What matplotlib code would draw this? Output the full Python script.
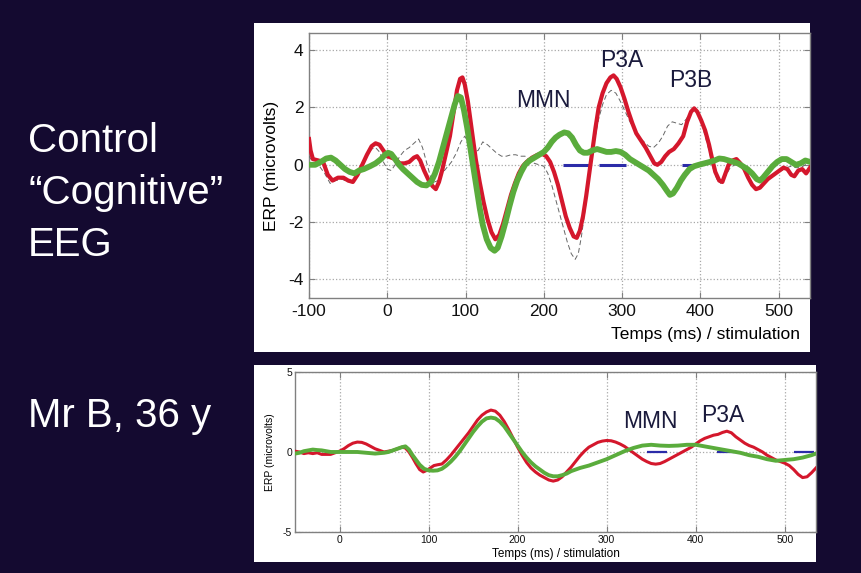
import matplotlib
matplotlib.use("Agg")
import matplotlib.pyplot as plt
from matplotlib.patches import Rectangle

plt.rcParams["font.family"] = ["Liberation Sans", "DejaVu Sans"]
plt.rcParams["axes.unicode_minus"] = False

BG = "#140a30"
RED = "#d4172c"
GREEN = "#5aac3c"
BLUE = "#2b2ba8"
LABEL = "#1a1a3c"

# control subject: time (ms) / ERP (microvolts)
ctl_red_t = [-100, -98, -95, -88, -82, -76, -70, -63, -56, -50, -44, -38, -32, -26, -20, -15,
             -10, -5, 0, 5, 10, 16, 22, 28, 34, 38, 42, 47, 53, 58, 62, 66, 70, 75, 80, 85,
             89, 93, 96, 99, 103, 108, 113, 118, 123, 128, 133, 138, 143, 148, 153, 158, 163,
             168, 173, 178, 185, 192, 198, 203, 208, 213, 218, 223, 228, 233, 238, 242, 246,
             250, 254, 258, 262, 266, 270, 275, 280, 285, 289, 293, 298, 303, 308, 313, 318,
             324, 330, 336, 341, 345, 350, 355, 360, 366, 372, 378, 383, 388, 392, 396, 401,
             406, 411, 415, 419, 424, 428, 432, 436, 441, 446, 451, 456, 461, 466, 471, 476,
             481, 486, 491, 496, 501, 506, 511, 516, 520, 525, 530, 535, 540]
ctl_red_v = [0.9, 0.5, 0.2, 0.15, 0.1, -0.35, -0.55, -0.45, -0.45, -0.55, -0.6, -0.35, 0.0,
             0.35, 0.65, 0.75, 0.7, 0.5, 0.3, 0.25, 0.2, 0.05, 0.05, 0.1, 0.25, 0.3, 0.15,
             -0.2, -0.55, -0.75, -0.85, -0.6, -0.2, 0.4, 1.0, 1.9, 2.6, 3.0, 3.05, 2.8, 2.2,
             1.2, 0.2, -0.6, -1.3, -1.9, -2.35, -2.6, -2.45, -2.05, -1.55, -1.05, -0.65, -0.3,
             -0.05, 0.1, 0.25, 0.35, 0.38, 0.3, 0.1, -0.25, -0.7, -1.25, -1.8, -2.2, -2.5,
             -2.55, -2.3, -1.8, -1.1, -0.3, 0.5, 1.3, 2.0, 2.5, 2.85, 3.05, 3.12, 3.0, 2.7,
             2.3, 1.85, 1.45, 1.1, 0.85, 0.6, 0.3, 0.05, 0.0, 0.1, 0.3, 0.45, 0.55, 0.75,
             1.0, 1.5, 1.85, 1.97, 1.85, 1.55, 1.2, 0.7, 0.2, -0.25, -0.55, -0.6, -0.3, 0.0,
             0.15, 0.2, 0.05, -0.15, -0.45, -0.7, -0.85, -0.8, -0.65, -0.5, -0.4, -0.3, -0.2,
             -0.1, -0.15, -0.35, -0.4, -0.2, -0.15, -0.3, -0.1]

ctl_green_t = [-100, -92, -85, -78, -72, -66, -60, -54, -48, -42, -36, -30, -22, -15, -8, -3,
               1, 5, 10, 15, 20, 26, 32, 38, 44, 50, 56, 61, 66, 71, 76, 81, 86, 90, 94, 98,
               102, 106, 110, 114, 118, 122, 127, 132, 137, 141, 146, 151, 156, 161, 166, 171,
               176, 182, 188, 194, 200, 205, 210, 215, 220, 226, 231, 236, 241, 246, 251, 256,
               262, 268, 274, 280, 286, 292, 298, 304, 310, 316, 322, 328, 334, 340, 346, 352,
               357, 361, 365, 370, 375, 380, 386, 392, 398, 405, 412, 418, 424, 430, 436, 442,
               448, 454, 460, 466, 472, 476, 480, 486, 492, 498, 504, 510, 516, 522, 528, 534,
               540]
ctl_green_v = [0.0, 0.0, 0.1, 0.22, 0.25, 0.15, 0.0, -0.15, -0.25, -0.3, -0.2, -0.15, -0.05,
               0.05, 0.2, 0.35, 0.42, 0.38, 0.2, 0.0, -0.15, -0.3, -0.45, -0.6, -0.7, -0.72,
               -0.6, -0.3, 0.1, 0.6, 1.1, 1.6, 2.1, 2.4, 2.35, 1.9, 1.3, 0.6, -0.1, -0.8, -1.5,
               -2.1, -2.6, -2.9, -3.0, -2.9, -2.5, -2.0, -1.45, -0.95, -0.55, -0.25, 0.0, 0.15,
               0.25, 0.35, 0.45, 0.6, 0.8, 0.95, 1.05, 1.13, 1.1, 0.95, 0.7, 0.5, 0.42, 0.42,
               0.5, 0.55, 0.5, 0.45, 0.45, 0.48, 0.45, 0.35, 0.2, 0.1, 0.0, -0.1, -0.2, -0.35,
               -0.5, -0.7, -0.9, -1.05, -1.0, -0.8, -0.55, -0.35, -0.15, -0.05, 0.0, 0.05, 0.1,
               0.15, 0.22, 0.2, 0.15, 0.1, 0.05, -0.05, -0.15, -0.3, -0.5, -0.55, -0.45, -0.25,
               -0.05, 0.1, 0.2, 0.2, 0.1, 0.0, 0.05, 0.15, 0.1]

ctl_gray_t = [-100, -95, -88, -80, -73, -66, -58, -50, -42, -34, -26, -20, -15, -10, -5, 0, 5,
              10, 16, 22, 28, 34, 40, 45, 50, 55, 60, 65, 70, 76, 82, 88, 94, 99, 104, 110,
              116, 122, 128, 134, 140, 146, 152, 158, 164, 170, 176, 182, 188, 194, 200, 205,
              210, 215, 220, 225, 230, 235, 240, 244, 248, 252, 256, 260, 265, 270, 275, 280,
              286, 292, 298, 304, 310, 316, 322, 328, 334, 340, 346, 352, 358, 364, 370, 376,
              382, 388, 392, 396, 401, 406, 411, 416, 421, 426, 432, 438, 444, 450, 456, 462,
              468, 474, 480, 486, 492, 498, 504, 510, 516, 522, 528, 534, 540]
ctl_gray_v = [0.3, 0.1, 0.0, -0.3, -0.65, -0.55, -0.5, -0.6, -0.5, -0.15, 0.3, 0.55, 0.6,
              0.45, 0.1, -0.15, -0.2, 0.0, 0.3, 0.5, 0.6, 0.75, 0.9, 0.6, 0.1, -0.4, -0.6,
              -0.55, -0.3, -0.1, 0.1, 0.4, 0.8, 1.0, 0.75, 0.45, 0.5, 0.8, 0.7, 0.55, 0.4, 0.3,
              0.3, 0.35, 0.35, 0.3, 0.3, 0.15, 0.05, 0.0, -0.05, -0.3, -0.7, -1.2, -1.7, -2.2,
              -2.7, -3.1, -3.3, -3.1, -2.5, -1.7, -0.9, 0.0, 0.9, 1.6, 2.1, 2.45, 2.6, 2.5,
              2.2, 1.85, 1.5, 1.2, 0.95, 0.8, 0.65, 0.6, 0.75, 1.0, 1.35, 1.5, 1.45, 1.4, 1.6,
              1.85, 1.95, 1.85, 1.5, 1.0, 0.5, -0.1, -0.5, -0.65, -0.4, -0.1, 0.0, -0.05,
              -0.15, -0.3, -0.45, -0.5, -0.5, -0.45, -0.35, -0.25, -0.2, -0.1, -0.05, -0.1,
              -0.1, 0.0, 0.05]

ctl_windows = [(224, 258), (270, 305), (376, 400)]
ctl_peaks = ["MMN", "P3A", "P3B"]
ctl_peak_t = [200, 300, 388]
ctl_peak_v = [2.25, 3.65, 2.95]

# Mr B, 36 y
mrb_red_t = [-50, -45, -40, -35, -30, -25, -20, -15, -10, -5, 0, 5, 10, 15, 20, 25, 30, 35,
             40, 45, 50, 55, 60, 65, 70, 74, 78, 82, 86, 90, 94, 98, 102, 106, 110, 115, 120,
             125, 130, 135, 140, 145, 150, 155, 160, 165, 170, 175, 180, 185, 190, 195, 200,
             205, 210, 215, 220, 225, 230, 235, 240, 245, 250, 255, 260, 265, 270, 275, 280,
             285, 290, 295, 300, 305, 310, 315, 320, 325, 330, 335, 340, 345, 350, 355, 360,
             365, 370, 375, 380, 385, 390, 395, 400, 405, 410, 415, 420, 425, 430, 435, 440,
             445, 450, 455, 460, 465, 470, 475, 480, 485, 490, 495, 500, 505, 510, 515, 520,
             525, 530, 535]
mrb_red_v = [0.05, 0.0, -0.1, -0.05, -0.1, -0.05, -0.15, -0.15, -0.15, -0.05, 0.05, 0.2, 0.4,
             0.55, 0.62, 0.6, 0.5, 0.35, 0.2, 0.1, 0.0, 0.05, 0.1, 0.2, 0.3, 0.25, 0.0, -0.35,
             -0.75, -1.1, -1.25, -1.15, -1.0, -0.85, -0.8, -0.75, -0.5, -0.2, 0.15, 0.5, 0.85,
             1.2, 1.6, 2.0, 2.3, 2.5, 2.62, 2.55, 2.3, 1.9, 1.4, 0.85, 0.3, -0.2, -0.65, -1.0,
             -1.25, -1.45, -1.6, -1.75, -1.82, -1.75, -1.55, -1.25, -0.95, -0.6, -0.25, 0.05,
             0.3, 0.45, 0.6, 0.68, 0.72, 0.7, 0.62, 0.5, 0.35, 0.15, -0.05, -0.25, -0.45, -0.6,
             -0.72, -0.76, -0.72, -0.6, -0.45, -0.3, -0.15, 0.0, 0.15, 0.3, 0.5, 0.7, 0.85,
             0.95, 1.05, 1.1, 1.22, 1.3, 1.2, 0.95, 0.75, 0.55, 0.4, 0.3, 0.15, 0.0, -0.2,
             -0.35, -0.5, -0.6, -0.7, -0.85, -1.1, -1.4, -1.6, -1.55, -1.3, -1.0]

mrb_green_t = [-50, -45, -40, -35, -30, -25, -20, -15, -10, 0, 10, 20, 30, 40, 50, 55, 60, 65,
               70, 74, 78, 82, 86, 90, 95, 100, 105, 110, 115, 120, 125, 130, 135, 140, 145,
               150, 155, 160, 165, 170, 175, 180, 185, 190, 195, 200, 205, 210, 215, 220, 225,
               230, 235, 240, 245, 250, 255, 260, 270, 280, 290, 300, 310, 320, 330, 340, 350,
               360, 370, 380, 390, 400, 410, 420, 430, 440, 450, 460, 470, 480, 490, 500, 510,
               520, 530, 535]
mrb_green_v = [-0.1, -0.05, 0.05, 0.1, 0.15, 0.12, 0.1, 0.05, 0.0, 0.0, 0.0, 0.0, -0.05, -0.1,
               -0.05, 0.0, 0.1, 0.2, 0.3, 0.35, 0.15, -0.2, -0.5, -0.8, -1.05, -1.15, -1.17,
               -1.15, -1.05, -0.85, -0.6, -0.3, 0.05, 0.45, 0.85, 1.25, 1.6, 1.9, 2.1, 2.15,
               2.1, 1.9, 1.6, 1.2, 0.8, 0.4, 0.0, -0.35, -0.65, -0.9, -1.1, -1.3, -1.45, -1.52,
               -1.52, -1.45, -1.35, -1.2, -1.0, -0.85, -0.65, -0.45, -0.2, 0.05, 0.25, 0.4,
               0.45, 0.4, 0.38, 0.4, 0.45, 0.45, 0.35, 0.25, 0.15, 0.05, -0.05, -0.2, -0.3,
               -0.45, -0.55, -0.5, -0.45, -0.35, -0.2, -0.1]

mrb_windows = [(345, 368), (424, 446), (510, 533)]
mrb_peaks = ["MMN", "P3A"]
mrb_peak_t = [349, 430]
mrb_peak_v = [1.9, 2.3]


def style_axes(ax, tick_size, pad):
    for side in ax.spines.values():
        side.set_color("#808080")
        side.set_linewidth(1.0)
    ax.tick_params(direction="in", length=4, width=0.8, color="#808080",
                   top=True, right=True, labelsize=tick_size, pad=pad,
                   labelcolor="#111111")
    ax.grid(True, linestyle=":", color="#a8a8a8", linewidth=0.9)
    ax.set_axisbelow(True)


fig = plt.figure(figsize=(8.61, 5.73), dpi=100, facecolor=BG)

# white panels behind the two plots
fig.patches.append(Rectangle((0.295, 0.3857), 0.6458, 0.5742, transform=fig.transFigure,
                             facecolor="white", edgecolor="none", zorder=-5))
fig.patches.append(Rectangle((0.295, 0.0192), 0.6527, 0.3438, transform=fig.transFigure,
                             facecolor="white", edgecolor="none", zorder=-5))

# control panel
ax1 = fig.add_axes([0.3589, 0.4799, 0.5819, 0.4625])
for a, b in ctl_windows:
    ax1.plot([a, b], [0, 0], color=BLUE, linewidth=2.2, zorder=2, solid_capstyle="butt")
ax1.plot(ctl_gray_t, ctl_gray_v, color="#666666", linewidth=0.7, linestyle=(0, (5, 3)), zorder=3)
ax1.plot(ctl_red_t, ctl_red_v, color=RED, linewidth=3.0, zorder=4, solid_joinstyle="round")
ax1.plot(ctl_green_t, ctl_green_v, color=GREEN, linewidth=4.2, zorder=5, solid_joinstyle="round")
for name, t, v in zip(ctl_peaks, ctl_peak_t, ctl_peak_v):
    ax1.text(t, v, name, fontsize=16.5, color=LABEL, ha="center", va="center", zorder=6)
ax1.set_xlim(-100, 540)
ax1.set_ylim(-4.65, 4.6)
ax1.set_xticks(range(-100, 501, 100))
ax1.set_yticks([-4, -2, 0, 2, 4])
style_axes(ax1, 12.5, 4)
ax1.set_xlabel("Temps (ms) / stimulation", fontsize=12.5, loc="right")
ax1.xaxis.set_label_coords(0.98, -0.11)
ax1.set_ylabel("ERP (microvolts)", fontsize=12.5)
ax1.yaxis.set_label_coords(-0.06, 0.5)

# Mr B panel
ax2 = fig.add_axes([0.3426, 0.0716, 0.6051, 0.2792])
for a, b in mrb_windows:
    ax2.plot([a, b], [0, 0], color=BLUE, linewidth=1.6, zorder=2, solid_capstyle="butt")
ax2.plot(mrb_red_t, mrb_red_v, color=RED, linewidth=2.2, zorder=4, solid_joinstyle="round")
ax2.plot(mrb_green_t, mrb_green_v, color=GREEN, linewidth=2.8, zorder=5, solid_joinstyle="round")
for name, t, v in zip(mrb_peaks, mrb_peak_t, mrb_peak_v):
    ax2.text(t, v, name, fontsize=16.5, color=LABEL, ha="center", va="center", zorder=6)
ax2.set_xlim(-50, 535)
ax2.set_ylim(-5, 5)
ax2.set_xticks(range(0, 501, 100))
ax2.set_yticks([-5, 0, 5])
style_axes(ax2, 7.5, 2)
ax2.set_xlabel("Temps (ms) / stimulation", fontsize=8.5, labelpad=2)
ax2.set_ylabel("ERP (microvolts)", fontsize=7.5, labelpad=6)

# slide captions
fig.text(28 / 861, 1 - 152 / 573, "Control", color="white", fontsize=29, va="baseline")
fig.text(28 / 861, 1 - 204 / 573, "\u201cCognitive\u201d", color="white", fontsize=29, va="baseline")
fig.text(28 / 861, 1 - 256 / 573, "EEG", color="white", fontsize=29, va="baseline")
fig.text(28 / 861, 1 - 427 / 573, "Mr B, 36 y", color="white", fontsize=29, va="baseline")

fig.savefig("out.png", dpi=100, facecolor=BG)
